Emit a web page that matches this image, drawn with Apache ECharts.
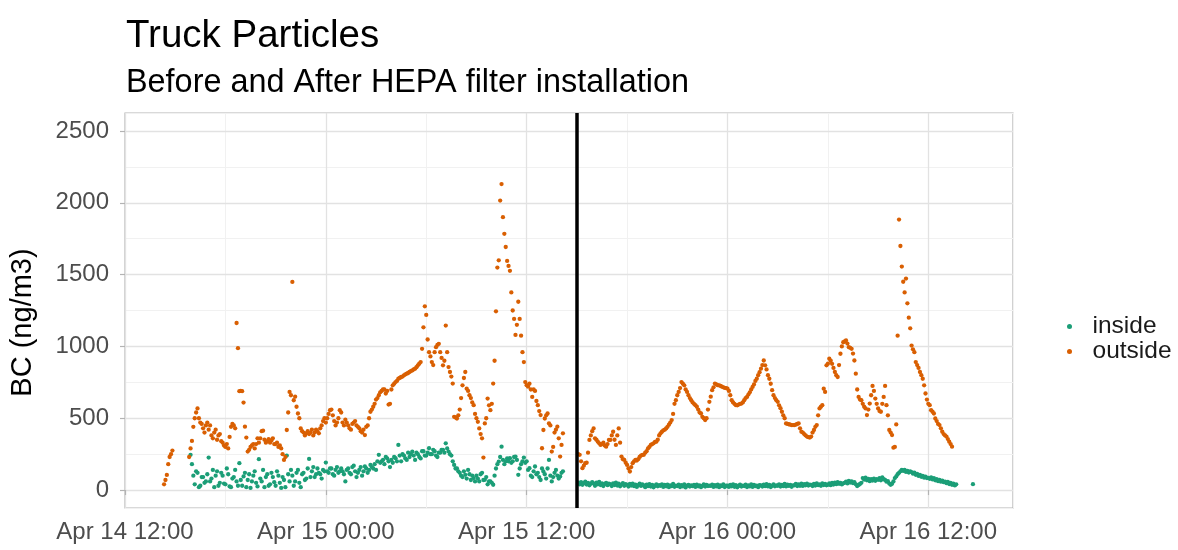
<!DOCTYPE html>
<html><head><meta charset="utf-8">
<script src="https://cdn.jsdelivr.net/npm/echarts@6/dist/echarts.min.js"></script>
<style>html,body{margin:0;padding:0;background:#fff}#chart{width:1178px;height:550px}</style>
</head><body><div id="chart"></div>
<script>
const titleText = 'Truck Particles';
const subtitleText = 'Before and After HEPA filter installation';
const yAxisTitle = 'BC (ng/m3)';
const seriesNames = ['inside', 'outside'];
const seriesColors = ['#1B9E77', '#D95F02'];
// readings every 5 minutes starting Apr 14 14:00 (hours counted from Apr 14 00:00); one row per hour
const startHour = 14;
const stepHours = 1 / 12;
const insideValues = [
  null, null, null, null, null, null, null, null, null, null, null, null,   // 14h
  null, null, null, null, null, null, null, null, null, null, null, 245,    // 15h
  180, 100, 40, 130, 120, 20, 30, 90, 90, 50, 60, 110,      // 16h
  226, 60, 80, 140, 20, 100, 130, 30, 50, 120, 100, 45,     // 17h
  40, 150, 110, 25, 20, 80, 90, 140, 60, 30, 187, 70,       // 18h
  30, 95, 120, 20, 70, 110, 15, 60, 100, 130, 50, 25,       // 19h
  215, 80, 60, 140, 20, 90, 110, 30, 40, 120, 90, 55,       // 20h
  30, 130, 100, 50, 15, 90, 70, 20, 240, 110, 60, 140,      // 21h
  100, 30, 60, 120, 140, 50, 20, 110, 120, 70, 80, 150,     // 22h
  217, 90, 130, 160, 90, 110, 150, 120, 110, 80, 140, 130,  // 23h
  191, 130, 120, 150, 150, 110, 100, 140, 160, 120, 130, 150, // 24h (Apr 15 00h)
  130, 110, 60, 140, 150, 120, 110, 160, 170, 130, 90, 120,   // 25h
  140, 160, 100, 130, 164, 150, 120, 140, 175, 160, 150, 180, // 26h
  140, 200, 245, 190, 200, 210, 180, 230, 220, 200, 160, 210, // 27h
  190, 230, 222, 200, 314, 240, 200, 250, 240, 220, 210, 260, // 28h
  230, 250, 268, 240, 210, 260, 250, 230, 220, 270, 270, 240, // 29h
  240, 260, 291, 250, 250, 280, 270, 240, 230, 260, 260, 280, // 30h
  280, 260, 325, 290, 268, 250, 240, 200, 175, 150, 150, 130, // 31h
  120, 100, 90, 130, 106, 80, 140, 110, 70, 100, 83, 60,      // 32h
  100, 80, 60, 110, 120, 70, 71, 90, 40, 60, 60, 50,          // 33h
  37, 100, 150, 180, 198, 230, 302, 210, 180, 200, 220, 200,  // 34h
  222, 190, 200, 230, 233, 210, 106, 150, 180, 200, 226, 190, // 35h
  200, 140, 152, 100, 90, 130, 164, 110, 120, 90, 70, 150,    // 36h
  129, 110, 80, 150, 210, 100, 60, 90, 120, 140, 100, 80,     // 37h
  95, 120, 130, null, null, null, null, null, null, null, null, null, // 38h
  null, 52, 40, 55, 36, 48, 58, 38, 50, 33, 45, 55,   // 39h
  45, 30, 52, 40, 56, 35, 47, 28, 42, 50, 34, 44,     // 40h
  40, 28, 47, 35, 52, 31, 44, 26, 38, 48, 30, 41,     // 41h
  36, 24, 42, 31, 45, 27, 38, 22, 34, 44, 29, 39,     // 42h
  32, 20, 37, 27, 41, 24, 35, 19, 30, 40, 26, 34,     // 43h
  30, 40, 22, 35, 26, 38, 20, 33, 27, 42, 23, 31,     // 44h
  28, 37, 21, 34, 25, 39, 18, 31, 36, 24, 33, 27,     // 45h
  35, 22, 38, 26, 33, 20, 29, 40, 24, 36, 28, 31,     // 46h
  29, 38, 22, 34, 25, 37, 20, 32, 27, 39, 21, 30,     // 47h
  30, 22, 36, 26, 40, 23, 34, 19, 29, 38, 24, 31,     // 48h (Apr 16 00h)
  28, 37, 21, 33, 25, 39, 22, 36, 27, 31, 20, 34,     // 49h
  33, 24, 38, 27, 41, 25, 35, 21, 30, 39, 26, 32,     // 50h
  30, 40, 24, 36, 27, 42, 25, 38, 29, 35, 23, 33,     // 51h
  33, 42, 28, 39, 30, 44, 29, 41, 33, 45, 31, 38,     // 52h
  36, 28, 43, 31, 46, 34, 40, 30, 47, 35, 42, 33,     // 53h
  37, 46, 34, 49, 38, 52, 41, 55, 44, 50, 39, 47,     // 54h
  50, 58, 46, 63, 52, 60, 48, 55, 40, 28, 35, 42,     // 55h
  50, 83, 72, 86, 68, 78, 62, 75, 66, 80, 64, 76,     // 56h
  71, 82, 68, 88, 76, 70, 58, 62, 45, 37, 44, 60,     // 57h
  83, 95, 110, 120, 130, 141, 133, 140, 126, 134, 122, 130, // 58h
  125, 114, 121, 106, 112, 98, 105, 92, 99, 86, 94, 84,     // 59h
  85, 78, 88, 74, 82, 68, 76, 62, 70, 58, 66, 55,           // 60h
  58, 48, 56, 42, 50, 36, 44, 32, 40, null, null, null,     // 61h
  null, null, null, null, null, null, null, null, 41, null, null, null // 62h
];
const outsideValues = [
  null, null, null, null, 40, 70, 105, 180, 230, 250, 275, null,          // 14h
  null, null, null, null, null, null, null, null, null, null, 230, 290,   // 15h
  342, 440, 500, 540, 568, 500, 470, 460, 430, 400, 450, 470,             // 16h
  420, 450, 380, 360, 400, 420, 350, 380, 390, 340, 330, 310,             // 17h
  300, 320, 290, 370, 440, 460, 450, 430, 1163, 988, 688, 690,            // 18h
  688, 609, 441, 365, 268, 280, 300, 310, 320, 290, 320, 360,             // 19h
  330, 360, 410, 413, 350, 330, 340, 355, 330, 345, 360, 320,             // 20h
  320, 330, 300, 310, 290, 250, 210, 230, 418, 540, 683, 660,             // 21h
  1449, 625, 650, 580, 533, 500, 429, 410, 400, 380, 395, 410,            // 22h
  390, 400, 420, 380, 400, 420, 410, 395, 430, 450, 480, 500,             // 23h
  470, 500, 530, 556, 560, 520, 480, 450, 470, 500, 556, 540,             // 24h
  470, 450, 490, 470, 450, 430, 420, 460, 470, 480, 450, 440,             // 25h
  430, 410, 400, 420, 383, 440, 450, 500, 545, 560, 580, 600,             // 26h
  630, 640, 660, 680, 690, 700, 700, 672, 690, 595, 600, 700,             // 27h
  729, 740, 752, 760, 775, 780, 787, 790, 799, 805, 810, 815,             // 28h
  822, 828, 833, 840, 845, 855, 868, 880, 891, 983, 1133, 1279,           // 29h
  1219, 1048, 960, 930, 891, 870, 960, 995, 1010, 1018, 960, 920,         // 30h
  868, 900, 1145, 960, 856, 822, 790, 741, 510, 505, 498, 520,            // 31h
  560, 640, 729, 780, 822, 706, 690, 660, 640, 610, 591, 530,             // 32h
  500, 475, 429, 390, 360, 226, 464, 500, 637, 590, 556, 600,             // 33h
  741, 900, 1244, 1549, 1599, 2015, 2130, 1900, 1784, 1692, 1595, 1560,   // 34h
  1526, 1376, 1250, 1191, 1080, 1150, 1311, 1191, 1075, 960, 891, 752,    // 35h
  730, 720, 740, 700, 648, 700, 690, 620, 591, 550, 522, 291,             // 36h
  418, 498, 520, 533, 464, 450, 268, 300, 400, 420, 441, 360,             // 37h
  233, 314, 395, null, null, null, null, null, null, null, null, null,    // 38h
  null, 250, 245, 200, 152, 170, 187, 190, 260, 349, 380, 410,            // 39h
  429, 360, 350, 337, 325, 314, 320, 330, 310, 302, 320, 349,             // 40h
  349, 380, 406, 350, 314, 380, 429, 330, 233, 215, 210, 190,             // 41h
  175, 150, 129, 160, 187, 200, 210, 205, 215, 230, 240, 245,             // 42h
  245, 260, 270, 290, 300, 314, 320, 325, 335, 337, 350, 380,             // 43h
  395, 406, 415, 420, 429, 440, 455, 470, 487, 530, 600, 625,             // 44h
  660, 683, 710, 752, 740, 729, 700, 683, 660, 640, 625, 610,             // 45h
  600, 591, 580, 560, 540, 533, 510, 500, 487, 500, 560, 614,             // 46h
  650, 695, 715, 741, 735, 730, 729, 725, 720, 715, 712, 710,             // 47h
  706, 690, 660, 625, 610, 600, 591, 590, 595, 600, 602, 610,             // 48h
  625, 640, 648, 665, 680, 700, 718, 735, 760, 775, 800, 820,             // 49h
  845, 870, 902, 868, 840, 800, 775, 740, 695, 660, 640, 625,             // 50h
  614, 590, 570, 545, 520, 500, 464, 460, 458, 455, 452, 452,             // 51h
  452, 455, 460, 464, 430, 406, 400, 390, 380, 372, 368, 365,             // 52h
  372, 400, 418, 440, 452, 520, 568, 580, 591, 706, 683, 868,             // 53h
  880, 914, 900, 879, 850, 822, 800, 787, 870, 949, 1000, 1029,           // 54h
  1035, 1041, 1020, 995, 990, 983, 950, 902, 810, 700, 648, 630,          // 55h
  625, 600, 580, 568, 522, 560, 602, 660, 725, 690, 637, 600,             // 56h
  568, 550, 545, 600, 648, 725, 591, 520, 418, 400, 383, 295,             // 57h
  300, 457, 1075, 1883, 1699, 1556, 1450, 1376, 1472, 1300, 1200, 1126,   // 58h
  1006, 980, 960, 891, 870, 850, 822, 800, 775, 729, 672, 630,            // 59h
  600, 591, 556, 545, 533, 498, 480, 460, 452, 430, 406, 390,             // 60h
  380, 372, 355, 337, 320, 302, null, null, null, null, null, null,       // 61h
  null, null, null, null, null, null, null, null, null, null, null, null  // 62h
];
const xTicks = [12, 24, 36, 48, 60];
const yTicks = [0, 500, 1000, 1500, 2000, 2500];
const xMinorStep = 6;
const yMinorStep = 250;
const filterInstallHour = 39;

function toPoints(values) {
  const pts = [];
  values.forEach((v, i) => { if (v != null) pts.push([startHour + i * stepHours, v]); });
  return pts;
}
function fmtHour(h) {
  const day = 14 + Math.floor(h / 24);
  const hh = h % 24;
  return 'Apr ' + day + ' ' + String(hh).padStart(2, '0') + ':00';
}
const FONT = 'Liberation Sans, Arial, sans-serif';
const X_MIN = 12, X_MAX = 65.06, Y_MIN = -125, Y_MAX = 2625;
const hiddenParts = { axisLine: { show: false }, axisTick: { show: false }, axisLabel: { show: false } };
const chart = echarts.init(document.getElementById('chart'), null, { renderer: 'canvas' });
chart.setOption({
  animation: false,
  backgroundColor: '#ffffff',
  title: [
    { text: titleText, left: 121, top: 12, textStyle: { fontSize: 38.5, fontWeight: 'normal', color: '#000', fontFamily: FONT } },
    { text: subtitleText, left: 121, top: 62, textStyle: { fontSize: 32.4, fontWeight: 'normal', color: '#000', fontFamily: FONT } }
  ],
  legend: {
    orient: 'vertical', left: 1062, top: 309, itemWidth: 36, itemHeight: 5, itemGap: 0,
    icon: 'circle', data: seriesNames,
    textStyle: { fontSize: 24.5, color: '#1A1A1A', fontFamily: FONT }
  },
  grid: { left: 123, right: 165, top: 113, bottom: 42, show: true, borderColor: '#B3B3B3', borderWidth: 1.2, backgroundColor: '#fff' },
  xAxis: [
    {
      type: 'value', min: X_MIN, max: X_MAX, interval: 12, z: 1,
      axisLine: { show: false },
      axisTick: { show: true, length: 5, customValues: xTicks, lineStyle: { color: '#B3B3B3', width: 1.2 } },
      axisLabel: { customValues: xTicks, formatter: fmtHour, fontSize: 24, color: '#4D4D4D', margin: 12, fontFamily: FONT },
      splitLine: { show: true, lineStyle: { color: '#E2E2E2', width: 1.3 } }
    },
    Object.assign({
      type: 'value', min: X_MIN, max: X_MAX, minInterval: xMinorStep, maxInterval: xMinorStep, z: 0,
      splitLine: { show: true, lineStyle: { color: '#F1F1F1', width: 1 } }
    }, hiddenParts)
  ],
  yAxis: [
    {
      type: 'value', min: Y_MIN, max: Y_MAX, z: 1,
      name: yAxisTitle, nameLocation: 'middle', nameGap: 88, nameRotate: 90,
      nameTextStyle: { fontSize: 29, color: '#000', fontFamily: FONT, padding: [0, 24, 0, 0] },
      axisLine: { show: false },
      axisTick: { show: true, length: 5, customValues: yTicks, lineStyle: { color: '#B3B3B3', width: 1.2 } },
      axisLabel: { customValues: yTicks, formatter: v => String(v), fontSize: 24, color: '#4D4D4D', margin: 16, fontFamily: FONT },
      splitLine: { show: true, lineStyle: { color: '#E2E2E2', width: 1.3 } }
    },
    Object.assign({
      type: 'value', min: Y_MIN, max: Y_MAX, minInterval: yMinorStep, maxInterval: yMinorStep, z: 0,
      splitLine: { show: true, lineStyle: { color: '#F1F1F1', width: 1 } }
    }, hiddenParts)
  ],
  series: [
    {
      name: seriesNames[0], type: 'scatter', data: toPoints(insideValues), symbolSize: 4.3,
      itemStyle: { color: seriesColors[0], opacity: 1 }, emphasis: { disabled: true }, z: 3
    },
    {
      name: seriesNames[1], type: 'scatter', data: toPoints(outsideValues), symbolSize: 4.3,
      itemStyle: { color: seriesColors[1], opacity: 1 }, emphasis: { disabled: true }, z: 4
    },
    {
      name: 'filter-install', type: 'line', data: [], silent: true,
      markLine: {
        silent: true, symbol: ['none', 'none'], label: { show: false }, animation: false,
        lineStyle: { color: '#000', width: 3.5, type: 'solid' },
        emphasis: { disabled: true },
        data: [{ xAxis: filterInstallHour }]
      }
    }
  ]
});
</script></body></html>
